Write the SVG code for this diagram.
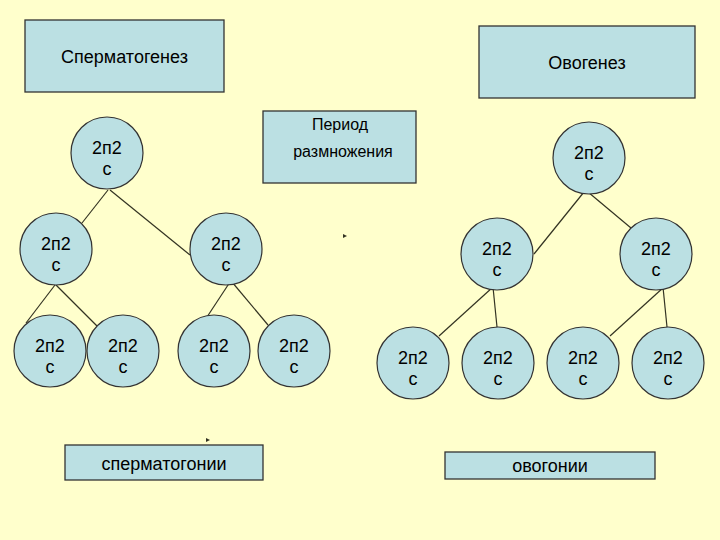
<svg xmlns="http://www.w3.org/2000/svg" width="720" height="540" viewBox="0 0 720 540">
<style>
.box{fill:#BBE0E3;stroke:#333333;stroke-width:1.3}
.cell{fill:#BBE0E3;stroke:#333333;stroke-width:1.2}
.t{font-family:"Liberation Sans",Arial,sans-serif;font-size:18px;fill:#000;text-anchor:middle}
.p{font-family:"Liberation Sans",Arial,sans-serif;font-size:16px;fill:#000;text-anchor:middle}
.ln{stroke:#333322;stroke-width:1.2;fill:none}
.mk{fill:#333322}
</style>
<rect x="0" y="0" width="720" height="540" fill="#FFFFCC"/>

<g id="title-spermatogenesis">
<rect class="box" x="25" y="20" width="199" height="72"/>
<text class="t" x="124.5" y="63">Сперматогенез</text>
</g>
<g id="title-ovogenesis">
<rect class="box" x="479" y="26" width="216" height="72"/>
<text class="t" x="587" y="69">Овогенез</text>
</g>
<g id="period">
<rect class="box" x="263" y="111" width="153" height="72"/>
<text class="p" x="340" y="130">Период</text>
<text class="p" x="343" y="157">размножения</text>
</g>
<g id="label-spermatogonia">
<rect class="box" x="65" y="445" width="198" height="35"/>
<text class="t" x="164" y="470">сперматогонии</text>
</g>
<g id="label-ovogonia">
<rect class="box" x="445" y="452" width="210" height="27"/>
<text class="t" x="550" y="472">овогонии</text>
</g>

<g id="connectors">
<line class="ln" x1="108" y1="190" x2="82" y2="223"/>
<line class="ln" x1="110" y1="190" x2="190" y2="255"/>
<line class="ln" x1="55" y1="285" x2="26" y2="323"/>
<line class="ln" x1="56" y1="285" x2="98" y2="327"/>
<line class="ln" x1="230" y1="282" x2="207" y2="317"/>
<line class="ln" x1="232" y1="282" x2="268" y2="325"/>
<line class="ln" x1="584" y1="192" x2="534" y2="254"/>
<line class="ln" x1="588" y1="192" x2="631" y2="228"/>
<line class="ln" x1="493" y1="287" x2="439" y2="336"/>
<line class="ln" x1="493" y1="287" x2="497" y2="327"/>
<line class="ln" x1="664" y1="287" x2="610" y2="336"/>
<line class="ln" x1="663" y1="287" x2="667" y2="327"/>
<polygon class="mk" points="343,234 347,236 343,238"/>
<polygon class="mk" points="206,438 210,440 206,442"/>
</g>

<g id="s-top"><circle class="cell" cx="107" cy="153" r="36"/><text class="t" x="107" y="154">2п2</text><text class="t" x="107" y="175">с</text></g>
<g id="s-mid-left"><circle class="cell" cx="56" cy="249" r="36"/><text class="t" x="56" y="250">2п2</text><text class="t" x="56" y="271">с</text></g>
<g id="s-mid-right"><circle class="cell" cx="226" cy="249" r="36"/><text class="t" x="226" y="250">2п2</text><text class="t" x="226" y="271">с</text></g>
<g id="s-bot-1"><circle class="cell" cx="50" cy="351" r="36"/><text class="t" x="50" y="352">2п2</text><text class="t" x="50" y="373">с</text></g>
<g id="s-bot-2"><circle class="cell" cx="123" cy="351" r="36"/><text class="t" x="123" y="352">2п2</text><text class="t" x="123" y="373">с</text></g>
<g id="s-bot-3"><circle class="cell" cx="214" cy="351" r="36"/><text class="t" x="214" y="352">2п2</text><text class="t" x="214" y="373">с</text></g>
<g id="s-bot-4"><circle class="cell" cx="294" cy="351" r="36"/><text class="t" x="294" y="352">2п2</text><text class="t" x="294" y="373">с</text></g>

<g id="o-top"><circle class="cell" cx="589" cy="158" r="36"/><text class="t" x="589" y="159">2п2</text><text class="t" x="589" y="180">с</text></g>
<g id="o-mid-left"><circle class="cell" cx="497" cy="254" r="36"/><text class="t" x="497" y="255">2п2</text><text class="t" x="497" y="276">с</text></g>
<g id="o-mid-right"><circle class="cell" cx="656" cy="254" r="36"/><text class="t" x="656" y="255">2п2</text><text class="t" x="656" y="276">с</text></g>
<g id="o-bot-1"><circle class="cell" cx="413" cy="363" r="36"/><text class="t" x="413" y="364">2п2</text><text class="t" x="413" y="385">с</text></g>
<g id="o-bot-2"><circle class="cell" cx="498" cy="363" r="36"/><text class="t" x="498" y="364">2п2</text><text class="t" x="498" y="385">с</text></g>
<g id="o-bot-3"><circle class="cell" cx="583" cy="363" r="36"/><text class="t" x="583" y="364">2п2</text><text class="t" x="583" y="385">с</text></g>
<g id="o-bot-4"><circle class="cell" cx="668" cy="363" r="36"/><text class="t" x="668" y="364">2п2</text><text class="t" x="668" y="385">с</text></g>
</svg>
